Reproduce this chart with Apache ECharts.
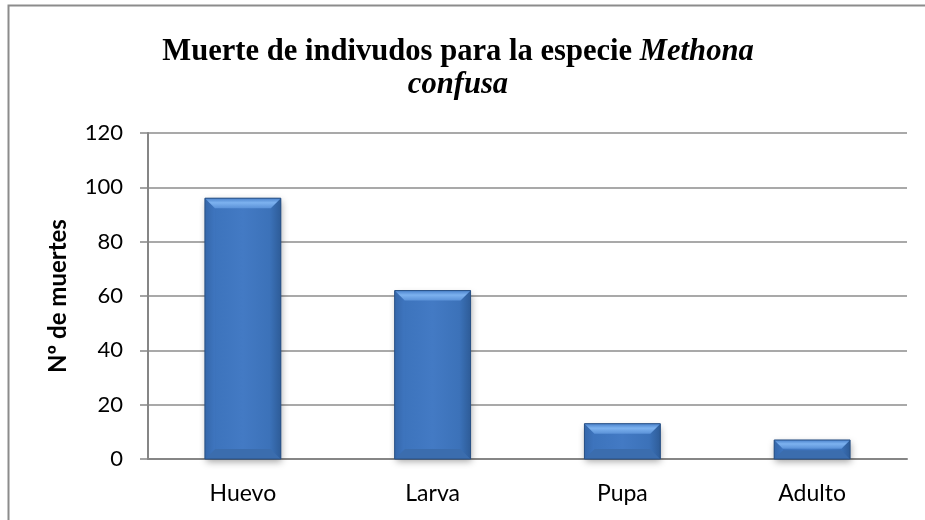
<!DOCTYPE html>
<html>
<head>
<meta charset="utf-8">
<script src="https://cdn.jsdelivr.net/npm/echarts@6/dist/echarts.min.js"></script>
<style>
html,body{margin:0;padding:0;background:#fff;}
#chart{width:925px;height:520px;}
</style>
</head>
<body>
<div id="chart"></div>
<script>
var categories = ['Huevo', 'Larva', 'Pupa', 'Adulto'];
var deaths = [96, 62, 13, 7];
var yMin = 0, yMax = 120, yStep = 20;
var titleMain = 'Muerte de indivudos para la especie ';
var titleItalic1 = 'Methona';
var titleItalic2 = 'confusa';
var yAxisTitle = 'Nº de muertes';

var chart = echarts.init(document.getElementById('chart'), null, {renderer: 'canvas'});

function renderBar(params, api) {
  var idx = api.value(0);
  var val = api.value(1);
  var top = api.coord([idx, val]);
  var base = api.coord([idx, 0]);
  var bw = api.size([1, 0])[0] * 0.4;
  var x = top[0] - bw / 2;
  var y = top[1];
  var w = bw;
  var h = base[1] - top[1];
  var b = Math.min(10, h / 2.2, w / 4);
  return {
    type: 'group',
    children: [
      {
        type: 'rect',
        shape: {x: x, y: y, width: w, height: h},
        style: {
          fill: new echarts.graphic.LinearGradient(0, 0, 1, 0, [
            {offset: 0, color: '#3466a8'},
            {offset: 0.15, color: '#3d74bd'},
            {offset: 0.5, color: '#437ac4'},
            {offset: 0.85, color: '#3c72b9'},
            {offset: 1, color: '#30609f'}
          ]),
          shadowBlur: 7,
          shadowOffsetX: 1,
          shadowOffsetY: 3,
          shadowColor: 'rgba(0,0,0,0.35)'
        }
      },
      {
        type: 'polygon',
        shape: {points: [[x, y + h], [x + b, y + h - b], [x + w - b, y + h - b], [x + w, y + h]]},
        style: {fill: '#3b6dae'}
      },
      {
        type: 'polygon',
        shape: {points: [[x, y], [x + b, y + b], [x + b, y + h - b], [x, y + h]]},
        style: {
          fill: new echarts.graphic.LinearGradient(0, 0, 1, 0, [
            {offset: 0, color: '#3567aa'},
            {offset: 1, color: '#3e75bf'}
          ])
        }
      },
      {
        type: 'polygon',
        shape: {points: [[x + w, y], [x + w - b, y + b], [x + w - b, y + h - b], [x + w, y + h]]},
        style: {
          fill: new echarts.graphic.LinearGradient(0, 0, 1, 0, [
            {offset: 0, color: '#3a70b6'},
            {offset: 1, color: '#2e5c98'}
          ])
        }
      },
      {
        type: 'polygon',
        shape: {points: [[x, y], [x + w, y], [x + w - b, y + b], [x + b, y + b]]},
        style: {
          fill: new echarts.graphic.LinearGradient(0, 0, 0, 1, [
            {offset: 0, color: '#4a82cc'},
            {offset: 0.45, color: '#7db2ef'},
            {offset: 1, color: '#5b92d8'}
          ])
        }
      },
      {
        type: 'rect',
        shape: {x: x, y: y, width: w, height: h},
        style: {fill: 'none', stroke: '#285085', lineWidth: 1}
      }
    ]
  };
}

var option = {
  animation: false,
  backgroundColor: '#ffffff',
  graphic: [
    {
      type: 'rect',
      shape: {x: 8.5, y: 5.5, width: 1000, height: 1000},
      style: {fill: 'none', stroke: '#8c8c8c', lineWidth: 2},
      z: 100
    },
    {
      type: 'text',
      x: 458,
      y: 36,
      style: {
        text: '{b|' + titleMain + '}{i|' + titleItalic1 + '}\n{i|' + titleItalic2 + '}',
        align: 'center',
        verticalAlign: 'top',
        rich: {
          b: {fontFamily: 'Liberation Serif', fontWeight: 'bold', fontSize: 30.6, lineHeight: 33, fill: '#000'},
          i: {fontFamily: 'Liberation Serif', fontWeight: 'bold', fontStyle: 'italic', fontSize: 30.6, lineHeight: 33, fill: '#000'}
        }
      }
    }
  ],
  grid: {left: 148, right: 18, top: 133, bottom: 61, containLabel: false},
  xAxis: {
    type: 'category',
    data: categories,
    axisLine: {show: true, lineStyle: {color: '#868686', width: 2}},
    axisTick: {show: false},
    axisLabel: {color: '#000', fontFamily: 'Lato', fontSize: 23, margin: 23},
    splitLine: {show: false}
  },
  yAxis: {
    type: 'value',
    min: yMin,
    max: yMax,
    interval: yStep,
    name: yAxisTitle,
    nameLocation: 'middle',
    nameGap: 78,
    nameRotate: 90,
    nameTextStyle: {color: '#000', fontFamily: 'Lato', fontWeight: 'bold', fontSize: 24},
    axisLine: {show: true, lineStyle: {color: '#868686', width: 2}},
    axisTick: {show: true, inside: false, length: 8, lineStyle: {color: '#868686', width: 1.5}},
    axisLabel: {color: '#000', fontFamily: 'Lato', fontSize: 22, margin: 25},
    splitLine: {show: true, lineStyle: {color: '#8c8c8c', width: 1.5}}
  },
  series: [{
    type: 'custom',
    renderItem: renderBar,
    data: deaths.map(function (v, i) { return [i, v]; }),
    encode: {x: 0, y: 1},
    z: 3
  }]
};
chart.setOption(option);
</script>
</body>
</html>
